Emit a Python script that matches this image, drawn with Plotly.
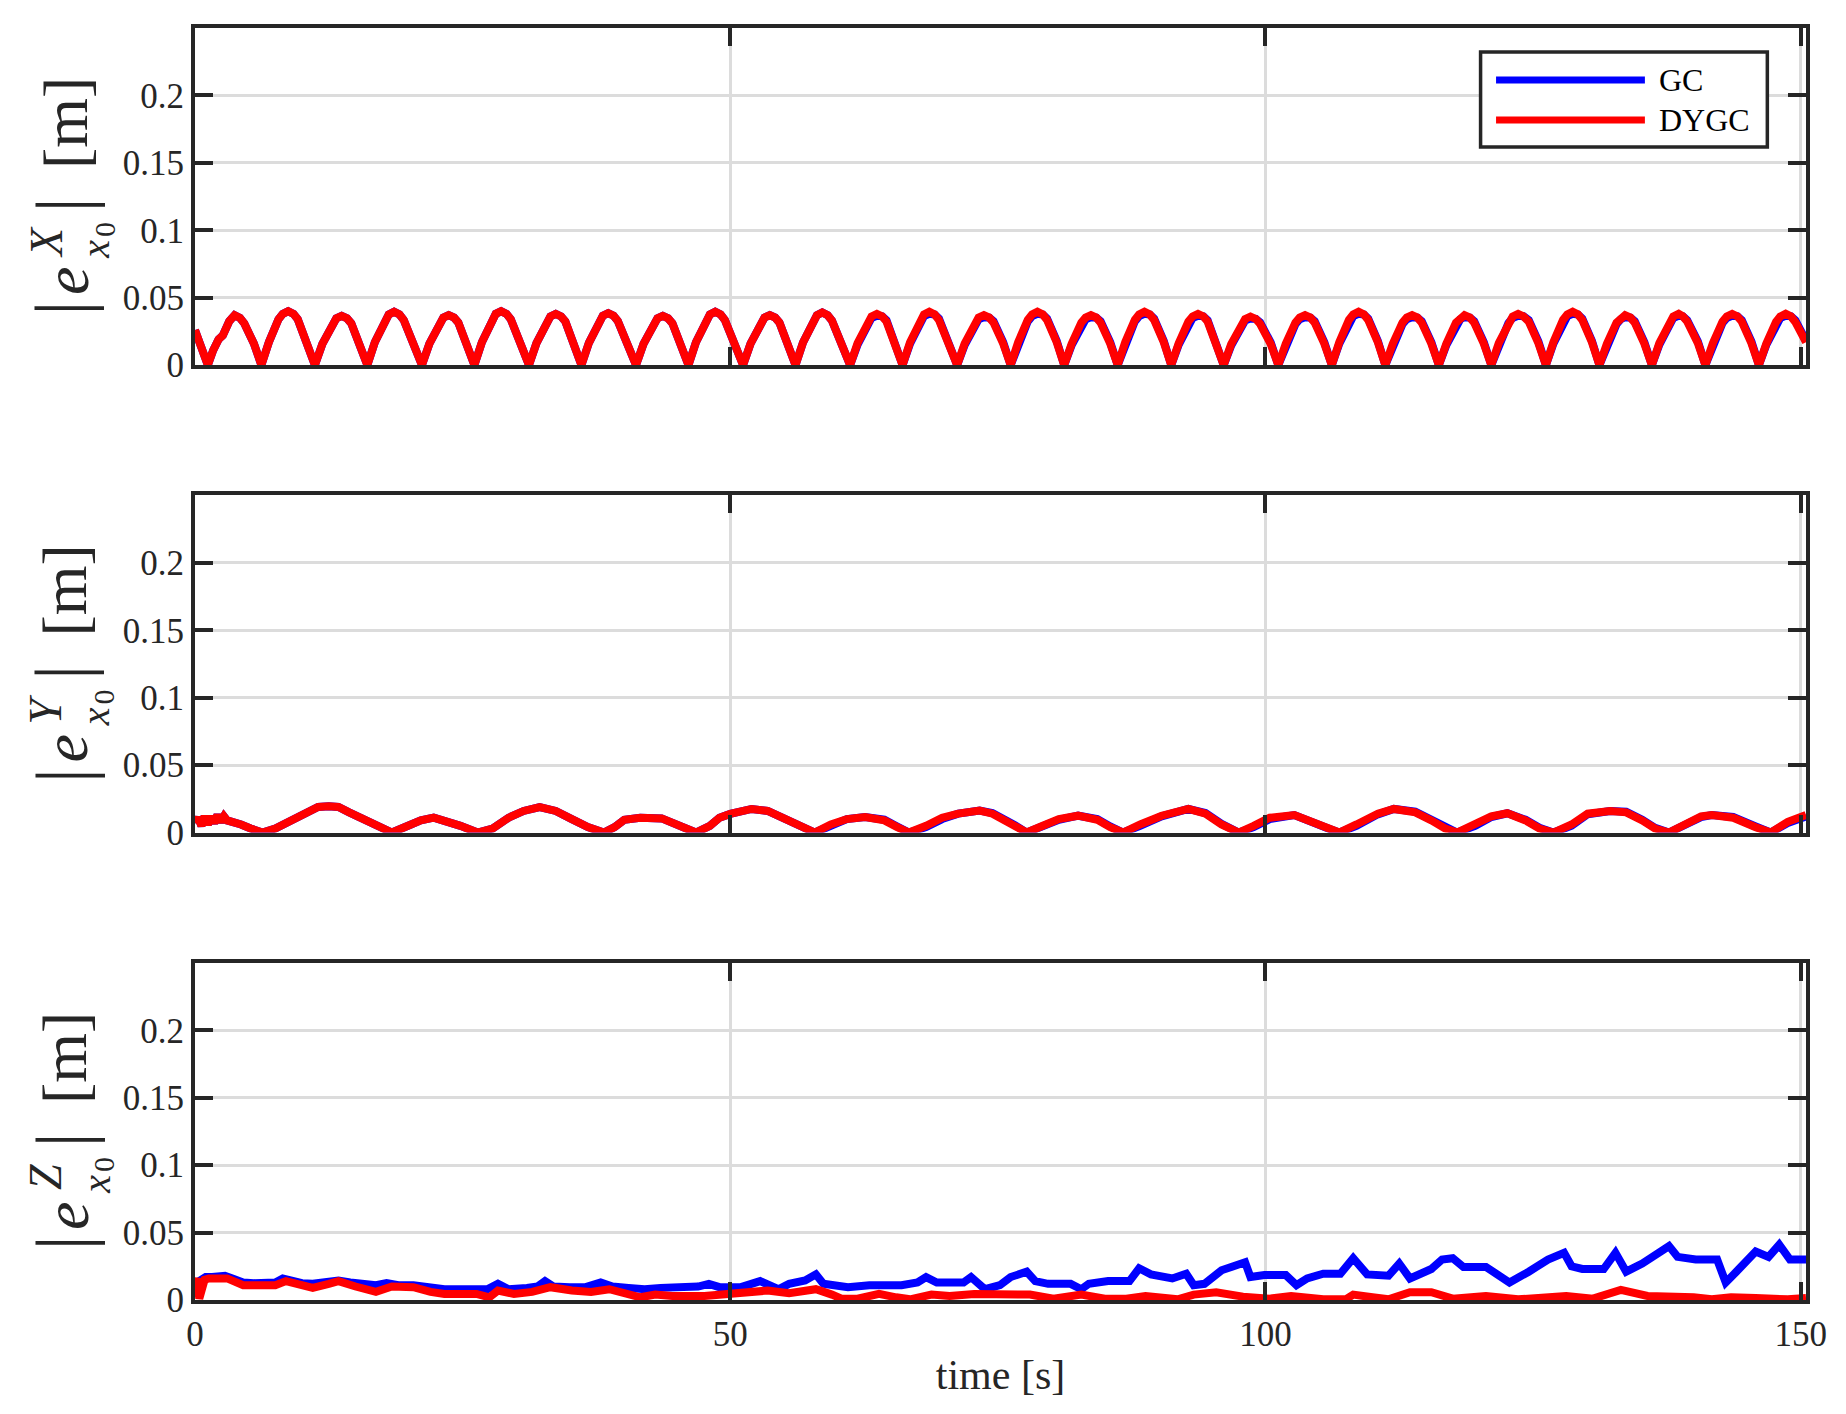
import plotly.graph_objects as go

# ---------------- data ----------------
x_tick_vals = [0, 50, 100, 150]
x_tick_text = ["0", "50", "100", "150"]
y_tick_vals = [0, 0.05, 0.1, 0.15, 0.2]
y_tick_text = ["0", "0.05", "0.1", "0.15", "0.2"]

series_names = ["GC", "DYGC"]

# |e^X_x0|
ex_t = [
    0.0, 0.5,
    1.2, 1.7, 2.2, 2.6, 3.2, 3.7, 4.2, 4.6, 5.5,
    6.2, 6.9, 7.8, 8.2, 8.7, 9.2, 9.6, 10.5,
    11.2, 11.9, 12.8, 13.2, 13.7, 14.2, 14.6, 15.4,
    16.1, 16.8, 17.7, 18.1, 18.6, 19.1, 19.5, 20.4,
    21.2, 21.9, 22.8, 23.2, 23.7, 24.2, 24.6, 25.4,
    26.1, 26.8, 27.7, 28.1, 28.6, 29.1, 29.5, 30.4,
    31.2, 31.9, 32.8, 33.2, 33.7, 34.2, 34.6, 35.4,
    36.1, 36.8, 37.7, 38.1, 38.6, 39.1, 39.5, 40.4,
    41.2, 41.9, 42.8, 43.2, 43.7, 44.2, 44.6, 45.4,
    46.1, 46.8, 47.7, 48.1, 48.6, 49.1, 49.5, 50.4,
    51.2, 51.9, 52.8, 53.2, 53.7, 54.2, 54.6, 55.4,
    56.1, 56.8, 57.7, 58.1, 58.6, 59.1, 59.5, 60.4,
    61.2, 61.9, 62.8, 63.2, 63.7, 64.2, 64.6, 65.4,
    66.1, 66.8, 67.7, 68.1, 68.6, 69.1, 69.5, 70.4,
    71.2, 71.9, 72.8, 73.2, 73.7, 74.2, 74.6, 75.5,
    76.2, 76.9, 77.8, 78.2, 78.7, 79.2, 79.6, 80.5,
    81.2, 81.9, 82.8, 83.2, 83.7, 84.2, 84.6, 85.5,
    86.2, 86.9, 87.8, 88.2, 88.7, 89.2, 89.6, 90.5,
    91.2, 91.9, 92.8, 93.2, 93.7, 94.2, 94.6, 95.4,
    96.1, 96.8, 97.7, 98.1, 98.6, 99.1, 99.5, 100.5,
    101.2, 101.9, 102.8, 103.2, 103.7, 104.2, 104.6, 105.5,
    106.2, 106.9, 107.8, 108.2, 108.7, 109.2, 109.6, 110.5,
    111.2, 111.9, 112.8, 113.2, 113.7, 114.2, 114.6, 115.5,
    116.2, 116.9, 117.8, 118.2, 118.6, 119.1, 119.5, 120.4,
    121.1, 121.8, 122.7, 123.1, 123.6, 124.1, 124.6, 125.5,
    126.2, 126.9, 127.8, 128.2, 128.7, 129.2, 129.6, 130.5,
    131.2, 131.9, 132.8, 133.2, 133.6, 134.1, 134.5, 135.4,
    136.1, 136.8, 137.7, 138.1, 138.6, 139.0, 139.4, 140.4,
    141.1, 141.8, 142.7, 143.1, 143.6, 144.1, 144.5, 145.4,
    146.1, 146.8, 147.7, 148.1, 148.6, 149.1, 149.5, 150.5,
]
ex_dygc = [
    0.026, 0.015,
    0.0, 0.011, 0.019, 0.022, 0.0325, 0.037, 0.035, 0.031, 0.016,
    0.0, 0.017, 0.034, 0.038, 0.040, 0.038, 0.034, 0.017,
    0.0, 0.0157, 0.031, 0.0347, 0.0365, 0.0347, 0.031, 0.0157,
    0.0, 0.017, 0.0335, 0.0375, 0.0395, 0.0375, 0.0335, 0.017,
    0.0, 0.0159, 0.0315, 0.0352, 0.037, 0.0352, 0.0315, 0.0159,
    0.0, 0.017, 0.034, 0.038, 0.040, 0.038, 0.034, 0.017,
    0.0, 0.0163, 0.0323, 0.0361, 0.038, 0.0361, 0.0323, 0.0163,
    0.0, 0.0165, 0.0327, 0.0366, 0.0385, 0.0366, 0.0327, 0.0165,
    0.0, 0.0157, 0.031, 0.0347, 0.0365, 0.0347, 0.031, 0.0157,
    0.0, 0.017, 0.0335, 0.0375, 0.0395, 0.0375, 0.0335, 0.017,
    0.0, 0.0159, 0.0315, 0.0352, 0.037, 0.0352, 0.0315, 0.0159,
    0.0, 0.0168, 0.033, 0.037, 0.039, 0.037, 0.033, 0.0168,
    0.0, 0.0163, 0.0323, 0.0361, 0.038, 0.0361, 0.0323, 0.0163,
    0.0, 0.017, 0.0335, 0.0375, 0.0395, 0.0375, 0.0335, 0.017,
    0.0, 0.0159, 0.0315, 0.0352, 0.037, 0.0352, 0.0315, 0.0159,
    0.0, 0.017, 0.0335, 0.0375, 0.0395, 0.0375, 0.0335, 0.017,
    0.0, 0.0159, 0.0315, 0.0352, 0.037, 0.0352, 0.0315, 0.0159,
    0.0, 0.017, 0.0335, 0.0375, 0.0395, 0.0375, 0.0335, 0.017,
    0.0, 0.0163, 0.0323, 0.0361, 0.038, 0.0361, 0.0323, 0.0163,
    0.0, 0.0155, 0.0306, 0.0342, 0.036, 0.0342, 0.0306, 0.0155,
    0.0, 0.0159, 0.0315, 0.0352, 0.037, 0.0352, 0.0315, 0.0159,
    0.0, 0.017, 0.0335, 0.0375, 0.0395, 0.0375, 0.0335, 0.017,
    0.0, 0.0159, 0.0315, 0.0352, 0.037, 0.0352, 0.0315, 0.0159,
    0.0, 0.0159, 0.0315, 0.0352, 0.037, 0.0352, 0.0315, 0.0159,
    0.0, 0.0163, 0.0323, 0.0361, 0.038, 0.0361, 0.0323, 0.0163,
    0.0, 0.017, 0.0335, 0.0375, 0.0395, 0.0375, 0.0335, 0.017,
    0.0, 0.0159, 0.0315, 0.0352, 0.037, 0.0352, 0.0315, 0.0159,
    0.0, 0.0163, 0.0323, 0.0361, 0.038, 0.0361, 0.0323, 0.0163,
    0.0, 0.0163, 0.0323, 0.0361, 0.038, 0.0361, 0.0323, 0.0163,
    0.0, 0.016, 0.032, 0.036, 0.038, 0.036, 0.032, 0.017,
]
ex_gc = [
    0.026, 0.015,
    0.0, 0.011, 0.019, 0.022, 0.0325, 0.037, 0.035, 0.031, 0.016,
    0.0, 0.017, 0.034, 0.038, 0.040, 0.038, 0.034, 0.017,
    0.0, 0.0157, 0.031, 0.0347, 0.0365, 0.0347, 0.031, 0.0157,
    0.0, 0.017, 0.0335, 0.0375, 0.0395, 0.0375, 0.0335, 0.017,
    0.0, 0.0159, 0.0315, 0.0352, 0.037, 0.0352, 0.0315, 0.0159,
    0.0, 0.017, 0.034, 0.038, 0.040, 0.038, 0.034, 0.017,
    0.0, 0.0163, 0.0323, 0.0361, 0.038, 0.0361, 0.0323, 0.0163,
    0.0, 0.0165, 0.0327, 0.0366, 0.0385, 0.0366, 0.0327, 0.0165,
    0.0, 0.0157, 0.031, 0.0347, 0.0365, 0.0347, 0.031, 0.0157,
    0.0, 0.017, 0.0335, 0.0375, 0.0395, 0.0375, 0.0335, 0.017,
    0.0, 0.0159, 0.0315, 0.0352, 0.037, 0.0352, 0.0315, 0.0159,
    0.0, 0.0168, 0.033, 0.037, 0.039, 0.037, 0.033, 0.0168,
    0.0, 0.0152, 0.0312, 0.035, 0.0365, 0.0362, 0.0333, 0.0175,
    0.0, 0.0158, 0.0324, 0.0363, 0.038, 0.0375, 0.0345, 0.018,
    0.0, 0.0148, 0.0303, 0.034, 0.0355, 0.0352, 0.0325, 0.017,
    0.0, 0.0158, 0.0324, 0.0363, 0.038, 0.0375, 0.0345, 0.018,
    0.0, 0.0148, 0.0303, 0.034, 0.0355, 0.0352, 0.0325, 0.017,
    0.0, 0.0158, 0.0324, 0.0363, 0.038, 0.0375, 0.0345, 0.018,
    0.0, 0.0152, 0.0312, 0.035, 0.0365, 0.0362, 0.0333, 0.0175,
    0.0, 0.0144, 0.0295, 0.0331, 0.0345, 0.0343, 0.0317, 0.0166,
    0.0, 0.0148, 0.0303, 0.034, 0.0355, 0.0352, 0.0325, 0.017,
    0.0, 0.0158, 0.0324, 0.0363, 0.038, 0.0375, 0.0345, 0.018,
    0.0, 0.0148, 0.0303, 0.034, 0.0355, 0.0352, 0.0325, 0.017,
    0.0, 0.0148, 0.0303, 0.034, 0.0355, 0.0352, 0.0325, 0.017,
    0.0, 0.0152, 0.0312, 0.035, 0.0365, 0.0362, 0.0333, 0.0175,
    0.0, 0.0158, 0.0324, 0.0363, 0.038, 0.0375, 0.0345, 0.018,
    0.0, 0.0148, 0.0303, 0.034, 0.0355, 0.0352, 0.0325, 0.017,
    0.0, 0.0152, 0.0312, 0.035, 0.0365, 0.0362, 0.0333, 0.0175,
    0.0, 0.0152, 0.0312, 0.035, 0.0365, 0.0362, 0.0333, 0.0175,
    0.0, 0.0152, 0.0312, 0.035, 0.0365, 0.0362, 0.0333, 0.018,
]

# |e^Y_x0|
ey_t = [
    0.0, 0.3, 0.6, 0.9, 1.2, 1.5, 1.8, 2.1, 2.4, 2.7, 3.0, 3.5, 4.3, 5.2, 6.3,
    7.5, 8.5, 9.5, 10.5, 11.5, 12.5, 13.4, 14.4, 15.4, 16.9, 18.4,
    19.9, 21.1, 22.3, 23.3, 24.8, 26.4,
    27.8, 29.3, 30.7, 32.2, 33.7, 35.2, 36.7, 38.2,
    39.2, 40.1, 41.6, 43.6, 45.1, 46.8,
    48.1, 49.0, 50.0, 52.0, 53.5, 55.0, 56.5, 57.9,
    59.4, 60.9, 62.6, 64.4, 65.6, 66.7,
    68.3, 69.8, 71.3, 73.3, 74.5, 75.5, 76.6, 77.7,
    79.2, 80.7, 82.5, 84.3, 85.5, 86.7,
    88.3, 90.3, 92.8, 94.4, 95.9, 97.5,
    98.9, 100.4, 102.7, 104.4, 105.7, 106.9,
    108.5, 110.5, 112.0, 114.0, 115.5, 116.8, 117.9,
    119.6, 121.1, 122.6, 124.3, 125.6, 126.9,
    128.6, 130.1, 132.2, 133.7, 135.2, 136.4, 137.7,
    139.2, 140.7, 141.7, 143.7, 145.8, 147.2,
    148.8, 150.5,
]
ey_dygc = [
    0.007, 0.011, 0.005, 0.012, 0.006, 0.012, 0.007, 0.013, 0.008, 0.012, 0.009, 0.008, 0.006, 0.003, 0.0,
    0.003, 0.007, 0.011, 0.016, 0.019, 0.0195, 0.019, 0.015, 0.011, 0.005, 0.0,
    0.005, 0.009, 0.011, 0.009, 0.005, 0.0,
    0.003, 0.011, 0.016, 0.0188, 0.016, 0.010, 0.004, 0.0,
    0.004, 0.0095, 0.011, 0.0105, 0.005, 0.0,
    0.005, 0.011, 0.0138, 0.0175, 0.016, 0.011, 0.005, 0.0,
    0.006, 0.010, 0.0115, 0.009, 0.004, 0.0,
    0.005, 0.011, 0.014, 0.0163, 0.014, 0.010, 0.005, 0.0,
    0.005, 0.010, 0.0125, 0.0095, 0.004, 0.0,
    0.006, 0.0125, 0.0175, 0.014, 0.006, 0.0,
    0.005, 0.011, 0.013, 0.008, 0.003, 0.0,
    0.006, 0.014, 0.0175, 0.015, 0.009, 0.003, 0.0,
    0.006, 0.012, 0.0143, 0.009, 0.003, 0.0,
    0.006, 0.014, 0.016, 0.015, 0.009, 0.003, 0.0,
    0.006, 0.012, 0.013, 0.011, 0.004, 0.0,
    0.008, 0.013,
]
ey_gc = [
    0.007, 0.011, 0.005, 0.012, 0.006, 0.012, 0.007, 0.013, 0.008, 0.012, 0.009, 0.008, 0.006, 0.003, 0.0,
    0.003, 0.007, 0.011, 0.016, 0.019, 0.0195, 0.019, 0.015, 0.011, 0.005, 0.0,
    0.005, 0.009, 0.011, 0.009, 0.005, 0.0,
    0.003, 0.011, 0.016, 0.0188, 0.016, 0.010, 0.004, 0.0,
    0.004, 0.0095, 0.011, 0.0105, 0.005, 0.0,
    0.005, 0.011, 0.0138, 0.0175, 0.016, 0.011, 0.005, 0.0,
    0.005, 0.010, 0.0115, 0.0095, 0.0045, 0.0,
    0.004, 0.010, 0.014, 0.0163, 0.0145, 0.0105, 0.0055, 0.0,
    0.004, 0.0095, 0.0125, 0.010, 0.0045, 0.0,
    0.005, 0.012, 0.0175, 0.0145, 0.0065, 0.0,
    0.004, 0.010, 0.013, 0.0085, 0.0035, 0.0,
    0.005, 0.0135, 0.0175, 0.0155, 0.0095, 0.0035, 0.0,
    0.005, 0.0115, 0.0143, 0.0095, 0.0035, 0.0,
    0.005, 0.0135, 0.016, 0.0155, 0.0095, 0.0035, 0.0,
    0.005, 0.0115, 0.013, 0.0115, 0.0045, 0.0,
    0.007, 0.012,
]

# |e^Z_x0|
ez_t_gc = [
    0.0, 0.5, 1.0, 1.6, 2.3, 2.8, 3.5, 4.5, 5.5, 6.5, 7.5, 8.2, 9.0, 10.0, 11.0, 12.0, 12.7, 13.4,
    14.5, 15.5, 16.9, 17.9, 19.0, 20.4, 21.5, 23.3, 25.0, 27.3, 28.3, 29.3, 31.0, 32.0, 32.7, 33.5,
    35.0, 36.5, 37.9, 39.0, 40.5, 42.0, 43.5, 45.6, 47.0, 48.0, 49.0, 51.0, 52.8, 54.5, 55.5, 57.0,
    58.0, 58.7, 61.0, 63.0, 66.0, 67.5, 68.3, 69.3, 71.8, 72.5, 73.8, 75.2, 76.2, 77.7, 78.5, 79.7,
    81.8, 82.8, 83.5, 85.3, 87.3, 88.2, 89.3, 91.3, 92.6, 93.3, 94.3, 95.9, 97.4, 98.1, 98.6, 99.9,
    101.9, 102.9, 103.9, 105.4, 107.0, 108.2, 109.5, 111.5, 112.5, 113.5, 115.5, 116.5, 117.5, 118.5,
    120.6, 122.8, 124.6, 126.4, 127.9, 128.6, 129.6, 131.6, 132.7, 133.7, 135.2, 137.7, 138.5, 140.2,
    142.2, 143.0, 144.0, 145.8, 147.0, 148.0, 149.0, 150.5,
]
ez_gc = [
    0.012, 0.015, 0.017, 0.017, 0.017, 0.018, 0.016, 0.013, 0.0125, 0.0125, 0.013, 0.016, 0.014, 0.0125, 0.012, 0.013, 0.015, 0.0145,
    0.013, 0.012, 0.011, 0.0125, 0.011, 0.011, 0.010, 0.008, 0.008, 0.008, 0.012, 0.008, 0.009, 0.010, 0.014, 0.010,
    0.0095, 0.0095, 0.013, 0.010, 0.009, 0.008, 0.009, 0.010, 0.010, 0.012, 0.0095, 0.0095, 0.014, 0.008, 0.012, 0.0145,
    0.019, 0.012, 0.0095, 0.011, 0.011, 0.013, 0.017, 0.013, 0.013, 0.017, 0.008, 0.011, 0.017, 0.021, 0.014, 0.012,
    0.012, 0.008, 0.012, 0.014, 0.014, 0.0235, 0.019, 0.016, 0.0195, 0.011, 0.012, 0.022, 0.027, 0.028, 0.017, 0.0185,
    0.0185, 0.011, 0.016, 0.0195, 0.0195, 0.031, 0.019, 0.018, 0.027, 0.016, 0.023, 0.030, 0.031, 0.0245,
    0.0245, 0.013, 0.021, 0.030, 0.035, 0.025, 0.023, 0.023, 0.035, 0.021, 0.027, 0.040, 0.032, 0.030,
    0.030, 0.013, 0.021, 0.036, 0.032, 0.041, 0.030, 0.030,
]
ez_t_dygc = [
    0.0, 0.2, 0.4, 0.6, 0.9, 1.3, 2.0, 3.0, 4.5, 6.0, 7.5, 8.5, 9.5, 11.0, 12.5, 13.4, 15.0, 16.9,
    18.4, 20.4, 22.0, 23.3, 26.3, 27.5, 28.3, 29.8, 31.5, 33.2, 35.2, 37.0, 38.7, 40.0, 41.6, 43.0,
    44.6, 47.6, 49.5, 52.0, 53.5, 55.5, 58.0, 59.5, 60.4, 61.9, 63.9, 65.5, 66.8, 68.8, 70.5, 72.8,
    76.0, 78.0, 80.2, 82.8, 85.0, 87.0, 88.8, 91.8, 93.3, 95.4, 97.9, 100.4, 102.4, 105.4, 107.5,
    108.2, 110.0, 111.5, 113.5, 115.5, 117.5, 120.6, 123.6, 126.0, 128.1, 130.6, 133.2, 135.7, 138.2,
    140.0, 141.7, 143.5, 145.8, 148.8, 150.5,
]
ez_dygc = [
    0.012, 0.016, 0.001, 0.008, 0.015, 0.016, 0.0155, 0.016, 0.011, 0.0115, 0.011, 0.014, 0.012, 0.009, 0.012, 0.014, 0.010, 0.006,
    0.010, 0.0095, 0.006, 0.0045, 0.0045, 0.002, 0.007, 0.0045, 0.006, 0.0095, 0.007, 0.006, 0.008, 0.005, 0.002, 0.004,
    0.003, 0.003, 0.004, 0.0055, 0.007, 0.005, 0.008, 0.004, 0.001, 0.001, 0.0045, 0.002, 0.0005, 0.004, 0.003, 0.0045,
    0.0045, 0.004, 0.001, 0.004, 0.001, 0.001, 0.003, 0.0005, 0.004, 0.0058, 0.0025, 0.001, 0.003, 0.0005, 0.0005,
    0.004, 0.002, 0.0005, 0.0058, 0.0058, 0.001, 0.003, 0.0005, 0.002, 0.003, 0.001, 0.0075, 0.003, 0.003,
    0.002, 0.0005, 0.002, 0.0015, 0.0005, 0.0015,
]

# y-axis label pieces (|e^S_x0| [m]), one superscript letter per panel
y_label_letters = ["X", "Y", "Z"]
x_title = "time [s]"

# ---------------- styling ----------------
FONT = "Liberation Serif"
AX = "#262626"
GRID = "#dcdcdc"
BLUE = "#0000ff"
RED = "#ff0000"
LW = 8

panels = [
    (ex_t, ex_gc, ex_t, ex_dygc),
    (ey_t, ey_gc, ey_t, ey_dygc),
    (ez_t_gc, ez_gc, ez_t_dygc, ez_dygc),
]
domains = [[0.735, 1.0], [0.3675, 0.6325], [0.0, 0.265]]

fig = go.Figure()
annotations = []
for i, (tg, g, td, d) in enumerate(panels):
    sfx = "" if i == 0 else str(i + 1)
    fig.add_trace(go.Scatter(x=tg, y=g, mode="lines", name=series_names[0],
                             line=dict(color=BLUE, width=LW), xaxis="x" + sfx, yaxis="y" + sfx,
                             showlegend=False))
    fig.add_trace(go.Scatter(x=td, y=d, mode="lines", name=series_names[1],
                             line=dict(color=RED, width=LW), xaxis="x" + sfx, yaxis="y" + sfx,
                             showlegend=False))

    common = dict(showline=True, linecolor=AX, linewidth=4, mirror="ticks",
                  ticks="inside", ticklen=18, tickwidth=3.5, tickcolor=AX,
                  showgrid=True, gridcolor=GRID, gridwidth=2.5, zeroline=False,
                  tickfont=dict(family=FONT, size=35, color=AX))
    xa = dict(common, domain=[0, 1], range=[0, 150.5], anchor="y" + sfx,
              tickmode="array", tickvals=x_tick_vals, ticktext=x_tick_text,
              showticklabels=(i == 2))
    if i == 2:
        xa["title"] = dict(text=x_title, font=dict(family=FONT, size=42, color=AX), standoff=8)
    ya = dict(common, domain=domains[i], range=[0, 0.25], anchor="x" + sfx,
              tickmode="array", tickvals=y_tick_vals, ticktext=y_tick_text)
    fig.layout["xaxis" + sfx] = xa
    fig.layout["yaxis" + sfx] = ya

    # rotated y label built from pieces so that super/subscripts stack as in the reference
    yref = "y domain" if i == 0 else f"y{i + 1} domain"
    pieces = [
        ("|", -0.0822, 0.169, 76, False),
        ("e", -0.0801, 0.249, 64, True),
        (y_label_letters[i], -0.0925, 0.365, 46, True),
        ("x", -0.0617, 0.344, 40, True),
        ("0", -0.0565, 0.4036, 30, False),
        ("|", -0.0822, 0.475, 76, False),
        ("[m]", -0.0807, 0.718, 64, False),
    ]
    for txt, px, py, sz, ital in pieces:
        annotations.append(dict(
            text=("<i>%s</i>" % txt) if ital else txt,
            xref="paper", yref=yref, x=px, y=py, xanchor="center", yanchor="middle",
            textangle=-90, showarrow=False,
            font=dict(family=FONT, size=sz, color=AX)))

# legend drawn in the first panel (box, sample lines, labels)
shapes = [
    dict(type="rect", xref="x domain", yref="y domain", x0=0.798, x1=0.976, y0=0.647, y1=0.929,
         line=dict(color=AX, width=3.5), fillcolor="white", layer="above"),
    dict(type="line", xref="x domain", yref="y domain", x0=0.8076, x1=0.900, y0=0.846, y1=0.846,
         line=dict(color=BLUE, width=7), layer="above"),
    dict(type="line", xref="x domain", yref="y domain", x0=0.8076, x1=0.900, y0=0.727, y1=0.727,
         line=dict(color=RED, width=7), layer="above"),
]
annotations += [
    dict(text=series_names[0], xref="x domain", yref="y domain", x=0.9075, y=0.846,
         xanchor="left", yanchor="middle", showarrow=False, font=dict(family=FONT, size=32, color="black")),
    dict(text=series_names[1], xref="x domain", yref="y domain", x=0.9075, y=0.727,
         xanchor="left", yanchor="middle", showarrow=False, font=dict(family=FONT, size=32, color="black")),
]

fig.update_layout(
    width=1846, height=1414,
    margin=dict(l=195, r=40, t=28, b=114),
    paper_bgcolor="white", plot_bgcolor="white",
    font=dict(family=FONT, color=AX),
    shapes=shapes, annotations=annotations,
    showlegend=False,
)

fig.write_html("out.html")
